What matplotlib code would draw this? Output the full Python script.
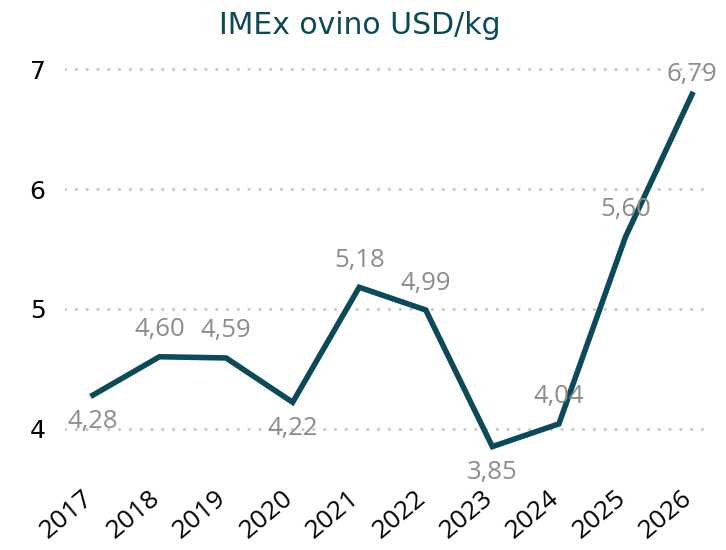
import matplotlib
matplotlib.use('Agg')
from matplotlib import pyplot
from matplotlib import transforms

years = ['2017', '2018', '2019', '2020', '2021', '2022', '2023', '2024', '2025', '2026']
prices = [4.28, 4.60, 4.59, 4.22, 5.18, 4.99, 3.85, 4.04, 5.60, 6.79]
labelBelow = [True, False, False, True, False, False, True, False, False, False]

darkTeal = '#0c4a5a'
labelGrey = '#8c8c8c'

pyplot.rcParams['font.family'] = 'DejaVu Sans'
figure = pyplot.figure(figsize=(7.26, 5.5), dpi=100)
axes = figure.add_axes([65/726, 1 - 455/550, (712-65)/726, (455-62)/550])

positions = list(range(len(years)))
axes.plot(positions, prices, color=darkTeal, linewidth=4, solid_joinstyle='miter', zorder=3)

axes.set_xlim(-0.42, 9.3)
axes.set_ylim(3.78, 7.06)

# data labels, kept inside the top of the plot area like the source chart
topLimit = 550 - 75
for x, value, below in zip(positions, prices, labelBelow):
    px, py = axes.transData.transform((x, value))
    ly = py - 26 if below else min(py + 27, topLimit)
    axes.annotate(f'{value:.2f}'.replace('.', ','), (x, value),
                  xytext=(px, ly), textcoords='figure pixels',
                  ha='center', va='center', fontsize=18.5, family='Open Sans',
                  color=labelGrey, zorder=4)

axes.set_yticks([4, 5, 6, 7])
axes.set_yticklabels(['4', '5', '6', '7'])
axes.set_xticks(positions)
axes.set_xticklabels(years, rotation=40, ha='right', rotation_mode='anchor',
                     family='Open Sans')
axes.tick_params(axis='both', length=0, colors='black')
axes.tick_params(axis='y', pad=14, labelsize=18)
axes.tick_params(axis='x', pad=22, labelsize=19)
shift = transforms.ScaledTranslation(-0.11, 0, figure.dpi_scale_trans)
for label in axes.get_xticklabels():
    label.set_transform(label.get_transform() + shift)
axes.grid(axis='y', color='#c4c4c4', linestyle=(0, (0.1, 3.6)), linewidth=2.1,
          dash_capstyle='round')
for spine in axes.spines.values():
    spine.set_visible(False)

figure.text(0.495, 1 - 25/550, 'IMEx ovino USD/kg', ha='center', va='center',
            fontsize=21.5, color=darkTeal)

pyplot.savefig('out.png', dpi=100)
